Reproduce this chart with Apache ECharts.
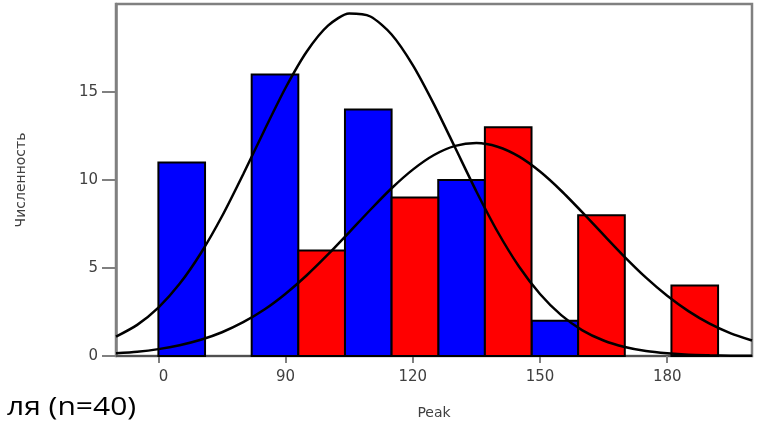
<!DOCTYPE html>
<html>
<head>
<meta charset="utf-8">
<script src="https://cdn.jsdelivr.net/npm/echarts@6/dist/echarts.min.js"></script>
<style>html,body{margin:0;padding:0;background:#fff}#c{width:759px;height:425px}</style>
</head>
<body>
<div id="c"></div>
<script>
const binWidth = 11;
const blueStarts = [60, 82, 104, 126, 148];
const blueCounts = [11, 16, 14, 10, 2];
const redStarts = [93, 115, 137, 159, 181];
const redCounts = [6, 9, 13, 8, 4];

const curveX = [50,55,60,65,70,75,80,85,90,95,100,105,110,115,120,125,130,135,140,145,150,155,160,165,170,175,180,185,190,195,200];
const blueCurve = [1.1,1.77,2.75,4.1,5.84,7.94,10.33,12.83,15.24,17.3,18.77,19.46,19.29,18.27,16.53,14.3,11.83,9.35,7.06,5.1,3.52,2.32,1.46,0.88,0.51,0.28,0.15,0.07,0.04,0.02,0.01];
const redCurve = [0.15,0.24,0.39,0.61,0.92,1.35,1.92,2.64,3.54,4.59,5.77,7.03,8.31,9.53,10.59,11.42,11.94,12.1,11.89,11.34,10.48,9.39,8.16,6.88,5.62,4.45,3.42,2.55,1.84,1.29,0.88];

const xTicks = [60, 90, 120, 150, 180];
const yTicks = [0, 5, 10, 15];
const xTitle = 'Peak';
const yTitle = 'Численность';
const footText = 'ля (n=40)';

const chart = echarts.init(document.getElementById('c'), null, {renderer: 'canvas'});

function barData(starts, counts) {
  return starts.map((s, i) => [s, s + binWidth, counts[i]]);
}
function makeRender(color) {
  return function (params, api) {
    const x0 = api.value(0), x1 = api.value(1), y = api.value(2);
    const p0 = api.coord([x0, y]);
    const p1 = api.coord([x1, 0]);
    return {
      type: 'rect',
      shape: {x: p0[0], y: p0[1], width: p1[0] - p0[0], height: p1[1] - p0[1]},
      style: {fill: color, stroke: '#000', lineWidth: 2}
    };
  };
}

const axisFont = {fontFamily: 'DejaVu Sans', fontSize: 15, color: '#404040'};

chart.setOption({
  animation: false,
  grid: {left: 116, right: 7, top: 4, bottom: 69, show: true, borderColor: '#808080', borderWidth: 2.5, backgroundColor: '#fff'},
  xAxis: {
    type: 'value', min: 50, max: 200,
    name: xTitle, nameLocation: 'middle', nameGap: 50,
    nameTextStyle: {fontFamily: 'DejaVu Sans', fontSize: 14, color: '#404040'},
    axisLine: {show: true, lineStyle: {color: '#505050', width: 2}},
    axisTick: {show: true, customValues: xTicks, length: 7, lineStyle: {color: '#808080', width: 2}},
    axisLabel: Object.assign({
      customValues: xTicks, margin: 14,
      formatter: function (v) { return v === 60 ? '{h|0}' : String(v); },
      rich: {h: {fontFamily: 'DejaVu Sans', fontSize: 15, color: '#404040', padding: [0, 0, 0, 10]}}
    }, axisFont),
    splitLine: {show: false}
  },
  yAxis: {
    type: 'value', min: 0, max: 20, interval: 5,
    name: yTitle, nameLocation: 'middle', nameGap: 88, nameRotate: 90,
    nameTextStyle: {fontFamily: 'DejaVu Sans', fontSize: 14, color: '#404040'},
    axisLine: {show: true, lineStyle: {color: '#808080', width: 2.5}},
    axisTick: {show: true, customValues: yTicks, length: 14, lineStyle: {color: '#808080', width: 2}},
    axisLabel: Object.assign({customValues: yTicks, margin: 18}, axisFont),
    splitLine: {show: false}
  },
  graphic: [{
    type: 'text', left: 7, top: 395,
    style: {text: footText, font: '25px "Open Sans", sans-serif', fill: '#000'},
    scaleX: 1.2
  }],
  series: [
    {type: 'custom', renderItem: makeRender('#0000ff'), data: barData(blueStarts, blueCounts), encode: {x: [0, 1], y: 2}, z: 2},
    {type: 'custom', renderItem: makeRender('#ff0000'), data: barData(redStarts, redCounts), encode: {x: [0, 1], y: 2}, z: 2},
    {type: 'line', data: curveX.map((x, i) => [x, blueCurve[i]]), smooth: 0.25, showSymbol: false, lineStyle: {color: '#000', width: 2.5}, z: 5},
    {type: 'line', data: curveX.map((x, i) => [x, redCurve[i]]), smooth: 0.25, showSymbol: false, lineStyle: {color: '#000', width: 2.5}, z: 5}
  ]
});
</script>
</body>
</html>
